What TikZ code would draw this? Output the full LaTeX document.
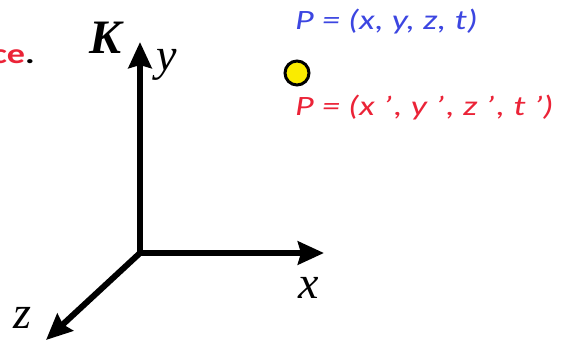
\documentclass[tikz,border=0pt]{standalone}
\usepackage{fontspec}
\setmainfont{Liberation Serif}
\newfontfamily\calfont{Carlito}
\usetikzlibrary{arrows.meta}
\definecolor{pblue}{RGB}{60,70,225}
\definecolor{pred}{RGB}{235,35,55}
\definecolor{pyellow}{RGB}{250,235,0}
\newcommand{\wide}[1]{\scalebox{1.29}[1]{#1}}
\newcommand{\pgap}{\hspace{1.3pt}}
\begin{document}
\begin{tikzpicture}[x=1pt,y=-1pt,
  axis/.style={line width=6pt,-{Stealth[length=26pt,width=23pt,inset=3pt]}},
  axlabel/.style={font=\fontsize{46}{50}\selectfont\itshape,inner sep=0pt,anchor=base},
  ptext/.style={font=\calfont\itshape\fontsize{28}{32}\selectfont,inner sep=0pt,anchor=base west}]
\useasboundingbox (0,0) rectangle (561,341);
\coordinate (o) at (140,253);
\coordinate (xt) at (324,253);
\coordinate (yt) at (140,42);
\coordinate (zt) at (46,340);
\draw[axis] (o) -- (xt);
\draw[axis] (o) -- (yt);
\draw[axis] (o) -- (zt);
\node[axlabel,font=\fontsize{48}{52}\selectfont\bfseries\itshape] (K) at (106,53) {K};
\node[axlabel] (ly) at (167,70) {y};
\node[axlabel] (lx) at (309,298) {x};
\node[axlabel] (lz) at (22,328) {z};
\node[font=\calfont\bfseries\fontsize{28}{32}\selectfont,inner sep=0pt,anchor=base east] (ce) at (35,63) {\wide{\textcolor{pred}{ce}.}};
\node[circle,draw=black,line width=3pt,fill=pyellow,minimum size=24pt,inner sep=0pt] (P) at (297,73) {};
\node[ptext,text=pblue] (pb) at (295,29) {\wide{P = (x, y, z, t)}};
\node[ptext,text=pred] (pr) at (295,115) {\wide{P = (x ’\pgap, y ’\pgap, z ’\pgap, t ’)}};
\end{tikzpicture}
\end{document}
